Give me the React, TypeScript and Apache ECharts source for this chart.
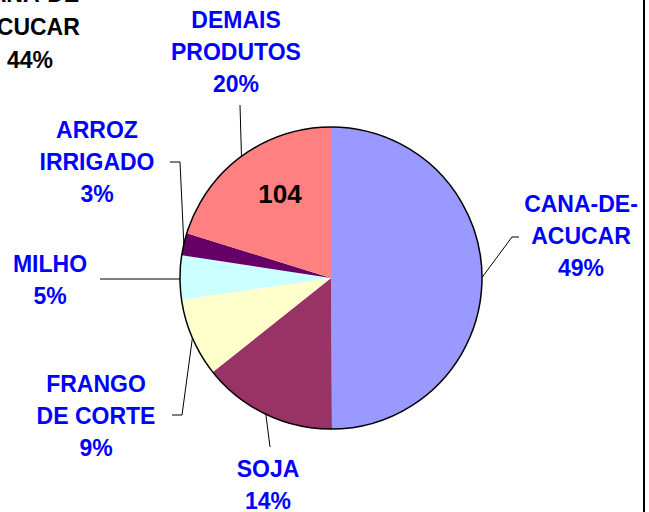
import React, { useEffect, useRef } from 'react';
import * as echarts from 'echarts';

const categories = ['CANA-DE-\nACUCAR', 'SOJA', 'FRANGO\nDE CORTE', 'MILHO', 'ARROZ\nIRRIGADO', 'DEMAIS\nPRODUTOS'];
// slice sizes as read from the drawn wedges
const sliceValues = [49.9, 14.4, 8.4, 4.7, 2.4, 20.2];
// percentages printed on the labels
const shownPercents = [49, 14, 9, 5, 3, 20];
const sliceColors = ['#9999FF', '#993366', '#FFFFCC', '#CCFFFF', '#660066', '#FF8080'];
const centerNote = '104';
const neighbourLabel = 'CANA-DE-\nACUCAR\n44%';

// label placement (layout only): label centre, then leader-line bend/end points
const labelSpots: { x: number; y: number; path: number[][]; flatY?: number }[] = [
  { x: 581, y: 236, path: [[512, 237], [519, 237]] },
  { x: 268, y: 485, path: [[270, 447]] },
  { x: 96, y: 416, path: [[182, 415], [172, 415]] },
  { x: 50, y: 280, path: [[100, 279]], flatY: 279 },
  { x: 97, y: 162, path: [[180, 162], [170, 162]] },
  { x: 236, y: 52, path: [[240, 105]] },
];

const FONT = '"Liberation Sans", Arial, Helvetica, sans-serif';

export default function App() {
  const ref = useRef<HTMLDivElement>(null);
  useEffect(() => {
    if (!ref.current) return;
    const chart = echarts.init(ref.current, undefined, { renderer: 'svg' });
    const data = categories.map((name, i) => ({
      name,
      value: sliceValues[i],
      itemStyle: { color: sliceColors[i] },
    }));
    chart.setOption({
      animation: false,
      backgroundColor: '#FFFFFF',
      series: [
        {
          type: 'pie',
          center: [331, 278],
          radius: [0, 151],
          startAngle: 90,
          clockwise: true,
          avoidLabelOverlap: false,
          silent: true,
          data,
          itemStyle: { borderWidth: 0 },
          label: {
            show: true,
            position: 'outside',
            formatter: (p: any) => `${p.name}\n${shownPercents[p.dataIndex]}%`,
            color: '#0000FF',
            fontFamily: FONT,
            fontWeight: 'bold',
            fontSize: 23,
            lineHeight: 32,
            align: 'center',
          },
          labelLine: {
            show: true,
            length: 10,
            length2: 10,
            smooth: false,
            lineStyle: { color: '#000000', width: 1 },
          },
          labelLayout: (params: any) => {
            const s = labelSpots[params.dataIndex];
            const p0 = params.labelLinePoints ? params.labelLinePoints[0] : s.path[0];
            const start = s.flatY !== undefined ? [p0[0], s.flatY] : p0;
            return {
              x: s.x,
              y: s.y,
              align: 'center',
              verticalAlign: 'middle',
              labelLinePoints: [start, ...s.path],
            };
          },
        },
        {
          type: 'pie',
          center: [331, 278],
          radius: [0, 151],
          silent: true,
          data: [{ value: 1, name: 'outline' }],
          itemStyle: { color: 'rgba(0,0,0,0)', borderColor: '#000000', borderWidth: 1.5 },
          label: { show: false },
          labelLine: { show: false },
        },
      ],
      graphic: [
        {
          type: 'text',
          z: 100,
          x: 280,
          y: 194,
          style: {
            text: centerNote,
            fill: '#000000',
            font: `bold 26px ${FONT}`,
            align: 'center',
            verticalAlign: 'middle',
            textAlign: 'center',
            textVerticalAlign: 'middle',
          },
        },
        {
          type: 'text',
          z: 100,
          x: 30,
          y: 27,
          style: {
            text: neighbourLabel,
            fill: '#000000',
            font: `bold 23px ${FONT}`,
            lineHeight: 33,
            align: 'center',
            verticalAlign: 'middle',
            textAlign: 'center',
            textVerticalAlign: 'middle',
          },
        },
        {
          type: 'rect',
          z: 100,
          shape: { x: 643, y: 0, width: 2, height: 512 },
          style: { fill: '#000000' },
        },
      ],
    });
    return () => chart.dispose();
  }, []);
  return (
    <div
      ref={ref}
      style={{ position: 'absolute', left: 0, top: 0, width: 649, height: 512 }}
    />
  );
}
